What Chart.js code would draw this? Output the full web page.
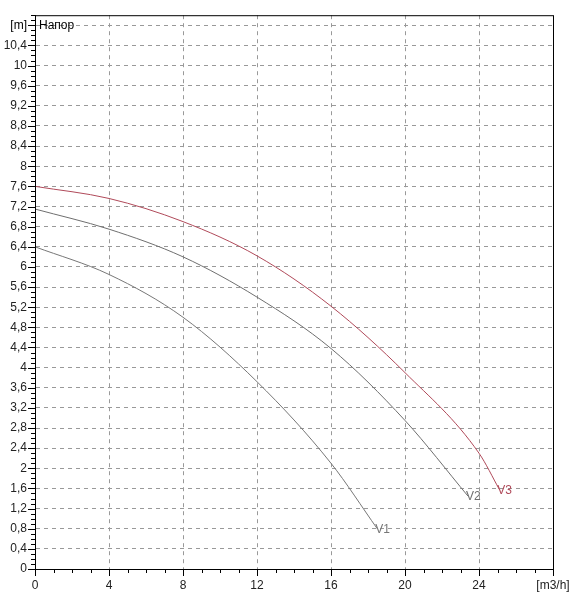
<!DOCTYPE html>
<html><head><meta charset="utf-8">
<script src="https://cdn.jsdelivr.net/npm/chart.js@4"></script>
<style>body{margin:0;background:#fff}#w{width:581px;height:600px}</style>
</head><body><div id="w"><canvas id="c"></canvas></div>
<script>
const v1x=[0,4,8,12,16,18.5], v1y=[6.4,5.85,5.0,3.72,2.1,0.8];
const v2x=[0,4,8,12,16,20,23.4], v2y=[7.15,6.75,6.2,5.4,4.38,2.95,1.45];
const v3x=[0,4,8,12,16,20,24,25.1], v3y=[7.6,7.36,6.9,6.22,5.22,3.9,2.3,1.58];
const seriesNames=['V1','V2','V3'];
const xLabels={0:'0',4:'4',8:'8',12:'12',16:'16',20:'20',24:'24',28:'[m3/h]'};
const pts=(xs,ys)=>xs.map((x,i)=>({x,y:ys[i]}));
const cols=['#777','#6f6f6f','#b04a5a'];
const near=(v,s)=>Math.abs(v/s-Math.round(v/s))<1e-6;
const plug={id:'p',afterDraw(ch){
 const c=ch.ctx,xs=ch.scales.x,ys=ch.scales.y,a=ch.chartArea;
 c.save();c.strokeStyle='#000';c.lineWidth=1;c.setLineDash([]);
 c.strokeRect(a.left+0.5,a.top+0.5,a.right-a.left,a.bottom-a.top);
 c.beginPath();
 for(let v=0;v<=11.0001;v+=0.1){const y=Math.round(ys.getPixelForValue(v))+0.5;const L=near(v,0.4)?7:4;c.moveTo(a.left-L,y);c.lineTo(a.left,y);}
 for(let v=0;v<=28;v++){const x=Math.round(xs.getPixelForValue(v))+0.5;const L=v%4==0?7:4;c.moveTo(x,a.bottom);c.lineTo(x,a.bottom+L);}
 c.stroke();
 c.font='12px Arial, "Liberation Sans"';c.textBaseline='middle';
 c.fillStyle='#000';c.textAlign='right';c.fillText('[m]',a.left-8,ys.getPixelForValue(10.8));
 c.textAlign='left';c.fillText('Напор',a.left+4,ys.getPixelForValue(10.8));
 ch.data.datasets.forEach((d,i)=>{const p=d.data[d.data.length-1];c.fillStyle=cols[i];c.fillText(seriesNames[i],xs.getPixelForValue(p.x)-2,ys.getPixelForValue(p.y)+1);});
 c.restore();}};
new Chart(document.getElementById('c'),{type:'scatter',
 data:{datasets:[pts(v1x,v1y),pts(v2x,v2y),pts(v3x,v3y)].map((d,i)=>({label:seriesNames[i],data:d,showLine:true,cubicInterpolationMode:'monotone',borderColor:cols[i],borderWidth:1,pointRadius:0}))},
 options:{responsive:true,maintainAspectRatio:false,animation:false,layout:{padding:{top:7,right:28}},
 plugins:{legend:{display:false},tooltip:{enabled:false}},
 scales:{
  x:{type:'linear',min:0,max:28,afterFit:s=>{s.height=31},
   grid:{drawTicks:false,color:c=>c.tick.value%4==0&&c.tick.value>0&&c.tick.value<28?'#999':'rgba(0,0,0,0)',lineWidth:1},
   border:{color:'#000',dash:[4,4]},
   ticks:{stepSize:4,padding:9,color:'#222',font:{size:12,family:'Arial'},maxRotation:0,callback:v=>xLabels[v]??''}},
  y:{type:'linear',min:0,max:11,afterFit:s=>{s.width=35},
   grid:{drawTicks:false,color:c=>near(c.tick.value,0.4)&&c.tick.value>0?'#999':'rgba(0,0,0,0)'},
   border:{color:'#000',dash:[4,4]},
   ticks:{stepSize:0.1,autoSkip:false,padding:8,color:'#222',font:{size:12,family:'Arial'},
    callback:v=>near(v,0.4)&&v<10.5?(Math.round(v*10)/10).toString().replace('.',','):''}}
 }},plugins:[plug]});
</script></body></html>
